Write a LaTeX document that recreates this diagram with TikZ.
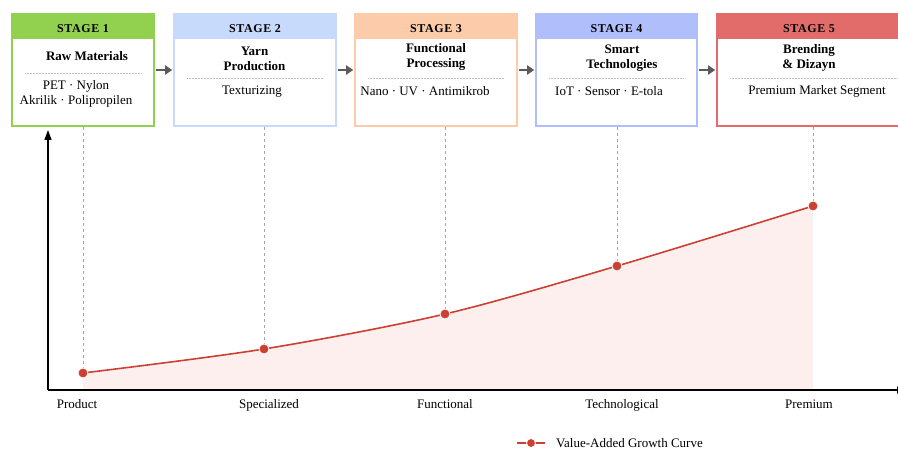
\documentclass[tikz,border=0pt]{standalone}
\usepackage{fontspec}
\setmainfont{Liberation Serif}
\usetikzlibrary{arrows.meta, positioning, calc}
\definecolor{stageA}{RGB}{146,208,80}
\definecolor{stageB}{RGB}{200,218,252}
\definecolor{stageC}{RGB}{252,203,170}
\definecolor{stageD}{RGB}{176,190,252}
\definecolor{stageE}{RGB}{226,108,106}
\definecolor{curvered}{RGB}{204,64,52}
\definecolor{areafill}{RGB}{252,239,237}
\definecolor{flowgray}{RGB}{90,90,90}

\begin{document}
\begin{tikzpicture}[x=1pt, y=-1pt,
    stagebox/.style={draw=#1, line width=1.6pt, fill=white, minimum height=112pt, inner sep=0pt},
    stagehead/.style={fill=#1, inner sep=0pt, minimum height=26pt, anchor=north, text height=13pt,
        font=\bfseries\fontsize{12}{14}\selectfont\addfontfeature{LetterSpace=5}},
    stagetitle/.style={align=center, inner sep=0pt, font=\bfseries\fontsize{13}{15}\selectfont},
    stagebody/.style={align=center, inner sep=0pt, font=\fontsize{13}{15}\selectfont},
    sepline/.style={densely dotted, black!25, line width=0.5pt},
    flow/.style={-{Triangle[length=7pt,width=9pt]}, line width=2pt, flowgray,
        shorten <=1.5pt, shorten >=1pt},
    guide/.style={dashed, black!35, line width=0.6pt},
    axis/.style={-{Triangle[length=10pt,width=7pt]}, line width=1.3pt, black},
    curve/.style={curvered, line width=1.6pt},
    dot/.style={circle, fill=curvered, draw=white, line width=0.8pt, inner sep=0pt, minimum size=#1},
    dot/.default=10pt,
    ticklabel/.style={inner sep=0pt, font=\fontsize{13}{15}\selectfont}]

    \useasboundingbox (0,0) rectangle (898,449);

    % stage boxes
    \node[stagebox=stageA, minimum width=142pt] (s1) at (83,70) {};
    \node[stagebox=stageB, minimum width=162pt] (s2) at (255,70) {};
    \node[stagebox=stageC, minimum width=162pt] (s3) at (436,70) {};
    \node[stagebox=stageD, minimum width=161pt] (s4) at (616.5,70) {};
    \node[stagebox=stageE, minimum width=184pt] (s5) at (809,70) {};

    % headers
    \node[stagehead=stageA, minimum width=142pt] (h1) at (s1.north) {STAGE 1};
    \node[stagehead=stageB, minimum width=162pt] (h2) at (s2.north) {STAGE 2};
    \node[stagehead=stageC, minimum width=162pt] (h3) at (s3.north) {STAGE 3};
    \node[stagehead=stageD, minimum width=161pt] (h4) at (s4.north) {STAGE 4};
    \node[stagehead=stageE, minimum width=184pt] (h5) at (s5.north) {STAGE 5};

    % titles
    \node[stagetitle] (t1) at (87,56) {Raw Materials};
    \node[stagetitle] (t2) at (254.5,59) {Yarn\\Production};
    \node[stagetitle] (t3) at (436,57) {Functional\\Processing};
    \node[stagetitle] (t4) at (622,58) {Smart\\Technologies};
    \node[stagetitle] (t5) at (809,58) {Brending\\\& Dizayn};

    % dotted separators
    \draw[sepline] (25,73) -- (141,73);
    \draw[sepline] (187,78) -- (323,78);
    \draw[sepline] (368,78) -- (504,78);
    \draw[sepline] (549,78) -- (684,78);
    \draw[sepline] (730,78) -- (898,78);

    % contents
    \node[stagebody] (b1) at (76,94) {PET · Nylon\\Akrilik · Polipropilen};
    \node[stagebody] (b2) at (252,92) {Texturizing};
    \node[stagebody] (b3) at (425,91) {Nano · UV · Antimikrob};
    \node[stagebody] (b4) at (609,91) {IoT · Sensor · E-tola};
    \node[stagebody] (b5) at (817,91) {Premium Market Segment};

    % flow arrows
    \draw[flow] (s1) -- (s2);
    \draw[flow] (s2) -- (s3);
    \draw[flow] (s3) -- (s4);
    \draw[flow] (s4) -- (s5);

    % curve points
    \coordinate (c1) at (83,373);
    \coordinate (c2) at (264,349);
    \coordinate (c3) at (445,314);
    \coordinate (c4) at (617,266);
    \coordinate (c5) at (813,206);

    % area under the curve
    \fill[areafill] plot[smooth] coordinates {(c1) (c2) (c3) (c4) (c5)}
        -- (c5 |- 0,390) -- (c1 |- 0,390) -- cycle;

    % axes
    \coordinate (o) at (48,390);
    \coordinate (ytop) at (48,130);
    \coordinate (xend) at (907,390);
    \draw[axis] (o) -- (ytop);
    \draw[axis] (o) -- (xend);

    % guides from boxes to points
    \node[dot] (p1) at (c1) {};
    \node[dot] (p2) at (c2) {};
    \node[dot] (p3) at (c3) {};
    \node[dot] (p4) at (c4) {};
    \node[dot] (p5) at (c5) {};
    \draw[guide] (p1 |- s1.south) -- (p1);
    \draw[guide] (p2 |- s2.south) -- (p2);
    \draw[guide] (p3 |- s3.south) -- (p3);
    \draw[guide] (p4 |- s4.south) -- (p4);
    \draw[guide] (p5 |- s5.south) -- (p5);

    % growth curve
    \draw[curve] plot[smooth] coordinates {(c1) (c2) (c3) (c4) (c5)};
    \node[dot] at (c1) {};
    \node[dot] at (c2) {};
    \node[dot] at (c3) {};
    \node[dot] at (c4) {};
    \node[dot] at (c5) {};

    % level labels
    \node[ticklabel] (l1) at (77,404) {Product};
    \node[ticklabel] (l2) at (269,405) {Specialized};
    \node[ticklabel] (l3) at (445,404) {Functional};
    \node[ticklabel] (l4) at (622,405) {Technological};
    \node[ticklabel] (l5) at (809,404) {Premium};

    % legend
    \coordinate (lga) at (517,443);
    \coordinate (lgb) at (545,443);
    \draw[curve] (lga) -- (lgb);
    \node[dot=9pt] (lgd) at ($(lga)!0.5!(lgb)$) {};
    \node[ticklabel, anchor=west] (lgt) at (556,443) {Value-Added Growth Curve};
\end{tikzpicture}
\end{document}
